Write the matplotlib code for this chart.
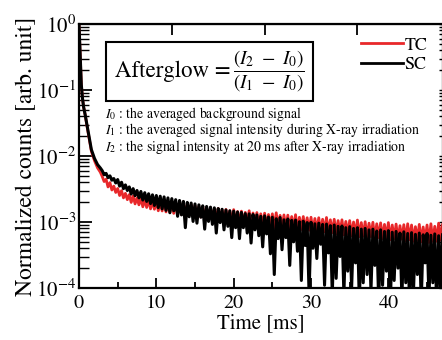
import numpy as np
import matplotlib
matplotlib.use("Agg")
import matplotlib.pyplot as plt
from matplotlib.patches import Rectangle
from matplotlib.ticker import FixedLocator, NullFormatter, LogLocator

plt.rcParams['font.family'] = ['STIXGeneral', 'DejaVu Serif']
plt.rcParams['mathtext.fontset'] = 'stix'
plt.rcParams['axes.unicode_minus'] = False

# ---- data ----
t_early = [0.0, 0.05, 0.1, 0.2, 0.3, 0.45, 0.6, 0.8, 1.0, 1.3, 1.6, 2.0, 2.4, 2.75]
sc_early = [1.0, 0.7, 0.45, 0.22, 0.12, 0.075, 0.055, 0.042, 0.031, 0.02, 0.0125, 0.0092, 0.0074, 0.0066]
tc_early = [1.0, 0.7, 0.45, 0.22, 0.12, 0.075, 0.055, 0.042, 0.030, 0.019, 0.0118, 0.0085, 0.0066, 0.0057]

tail_start = 3.0   # ms
tail_step = 0.25   # ms
tail_unit = 1e-5
# SC (black) samples from 3.0 ms in 0.25 ms steps, units of 1e-5
sc_tail = [
    600, 520, 545, 470, 500, 430, 455, 390,
    440, 350, 400, 320, 365, 300, 340, 265,
    320, 250, 300, 232, 290, 215, 278, 205,
    268, 190, 258, 178, 252, 165, 246, 158,
    240, 150, 232, 138, 226, 148, 218, 122,
    212, 128, 205, 82, 198, 120, 194, 102,
    188, 96, 182, 118, 176, 78, 172, 102,
    168, 92, 164, 68, 160, 98, 156, 76,
    152, 86, 148, 58, 146, 82, 142, 56,
    140, 82, 134, 68, 133, 48, 130, 76,
    128, 62, 122, 42, 124, 66, 119, 33,
    118, 16, 112, 56, 117, 38, 108, 58,
    111, 22, 106, 50, 107, 36, 101, 13,
    103, 44, 98, 8, 99, 40, 94, 28,
    96, 46, 92, 11, 93, 34, 88, 8,
    90, 14, 86, 30, 87, 8, 82, 18,
    85, 10, 80, 24, 82, 6, 78, 12,
    80, 16, 76, 9, 78, 22, 73, 6,
    76, 11, 72, 18, 74, 5, 70, 13,
    72, 20, 68, 7, 71, 12, 67, 5,
    69, 9, 65, 16, 68, 6, 64, 24,
    67, 7, 63, 12, 66, 5, 62, 10,
    64,
]
# TC (red) samples, same time grid
tc_tail = [
    490, 410, 445, 340, 395, 305, 350, 280,
    322, 252, 298, 232, 272, 218, 260, 198,
    248, 188, 232, 182, 230, 170, 218, 166,
    218, 158, 210, 156, 209, 148, 200, 147,
    203, 142, 195, 141, 196, 135, 188, 136,
    190, 130, 202, 126, 182, 128, 183, 121,
    178, 120, 170, 119, 172, 114, 163, 114,
    165, 109, 158, 110, 160, 104, 153, 105,
    155, 100, 148, 101, 154, 96, 144, 97,
    146, 94, 140, 94, 148, 90, 137, 91,
    139, 88, 133, 89, 136, 85, 130, 86,
    133, 82, 138, 84, 126, 81, 128, 79,
    127, 78, 121, 79, 129, 75, 118, 77,
    121, 74, 116, 75, 118, 72, 113, 73,
    116, 70, 110, 71, 117, 68, 108, 69,
    110, 66, 105, 67, 108, 64, 102, 65,
    105, 62, 100, 63, 107, 60, 98, 61,
    101, 59, 96, 60, 99, 57, 94, 58,
    97, 56, 92, 57, 98, 54, 90, 56,
    93, 53, 88, 55, 91, 52, 94, 54,
    90, 51, 85, 53, 92, 50, 84, 52,
    90, 49, 94, 51, 86, 51, 96, 53,
    91,
]

series_labels = ['TC', 'SC']
series_colors = ['#e8282a', 'black']
x_major = [0, 10, 20, 30, 40]
x_minor = [5, 15, 25, 35, 45]
top_ticks = [12, 24, 36]

t_tail = tail_start + tail_step * np.arange(len(sc_tail))
t_all = np.concatenate([t_early, t_tail])
tc_all = np.concatenate([tc_early, np.array(tc_tail) * tail_unit])
sc_all = np.concatenate([sc_early, np.array(sc_tail) * tail_unit])

fig = plt.figure(figsize=(4.42, 3.40), dpi=100)
ax = fig.add_axes([79/442, 52/340, 363.5/442, 264/340])

ax.plot(t_all, tc_all, color=series_colors[0], lw=2.0, label=series_labels[0], zorder=2)
ax.plot(t_all, sc_all, color=series_colors[1], lw=2.2, label=series_labels[1], zorder=3)

ax.set_yscale('log')
ax.set_ylim(1e-4, 1)
ax.set_xlim(0, 47)

ax.xaxis.set_major_locator(FixedLocator(x_major))
ax.xaxis.set_minor_locator(FixedLocator(x_minor))
ax.yaxis.set_major_locator(LogLocator(base=10, numticks=10))
ax.yaxis.set_minor_locator(LogLocator(base=10, subs=np.arange(2, 10), numticks=10))
ax.yaxis.set_minor_formatter(NullFormatter())

ax.tick_params(axis='both', which='both', direction='in', top=False, right=False)
ax.tick_params(axis='y', which='major', length=9, width=1.3, pad=2, labelsize=15)
ax.tick_params(axis='y', which='minor', length=7, width=1.0)
ax.tick_params(axis='x', which='major', length=7, width=1.3, pad=5, labelsize=14.5)
ax.tick_params(axis='x', which='minor', length=4, width=1.3)
for s in ax.spines.values():
    s.set_linewidth(1.6)

# top ticks
secx = ax.secondary_xaxis('top')
secx.xaxis.set_major_locator(FixedLocator(top_ticks))
secx.xaxis.set_minor_locator(FixedLocator([]))
secx.tick_params(direction='in', length=8, width=1.3, labeltop=False)
# right ticks
secy = ax.secondary_yaxis('right')
secy.tick_params(axis='y', which='both', direction='in', length=3, width=1.0, labelright=False)

ax.set_xlabel('Time [ms]', fontsize=15, labelpad=1)
ax.set_ylabel('Normalized counts [arb. unit]', fontsize=17, labelpad=-1)

# formula box
ax.add_patch(Rectangle((27/363.5, 1 - 77/264), 207/363.5, 59/264,
                       transform=ax.transAxes, fill=True, fc='white', ec='black',
                       lw=1.5, zorder=5))
ax.text(36/363.5, 1 - 47.5/264, 'Afterglow =',
        transform=ax.transAxes, ha='left', va='center', fontsize=16.5, zorder=6)
ax.text(226/363.5, 1 - 47.5/264,
        r'$\dfrac{(I_2\ -\ I_0)}{(I_1\ -\ I_0)}$',
        transform=ax.transAxes, ha='right', va='center', fontsize=14, zorder=6)

notes = [r'$I_0$ : the averaged background signal',
         r'$I_1$ : the averaged signal intensity during X-ray irradiation',
         r'$I_2$ : the signal intensity at 20 ms after X-ray irradiation']
for i, s in enumerate(notes):
    ax.text(26/363.5, 1 - (90 + 16.5 * i)/264, s, transform=ax.transAxes,
            ha='left', va='center', fontsize=9.9, zorder=6)

leg = ax.legend(loc='upper right', bbox_to_anchor=(1.0 - 15/363.5, 1 - 13/264),
                frameon=False, fontsize=13, handlelength=2.3, handletextpad=0.1,
                labelspacing=0.15, borderaxespad=0, borderpad=0)
for h in leg.get_lines():
    h.set_linewidth(2.0)

fig.savefig('out.png', dpi=100)
